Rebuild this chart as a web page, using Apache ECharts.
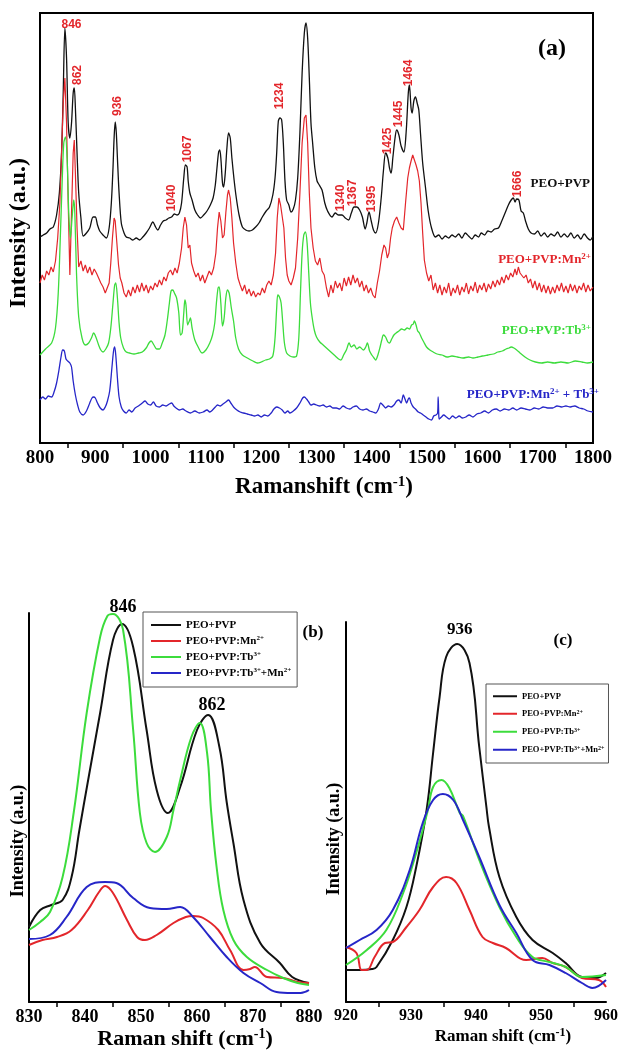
<!DOCTYPE html>
<html><head><meta charset="utf-8">
<script src="https://cdn.jsdelivr.net/npm/echarts@6/dist/echarts.min.js"></script>
<style>html,body{margin:0;padding:0;background:#fff}#c{width:621px;height:1052px}</style>
</head><body><div id="c"></div>
<script>
// ---------- Panel (a): full spectra, 800-1800 cm-1 (offset traces, arbitrary units) ----------
const aTicks = [800, 900, 1000, 1100, 1200, 1300, 1400, 1500, 1600, 1700, 1800];
const aBlack = [[800,206],[806,208],[812,210],[818,214],[824,216],[830,228],[835,250],[839,290],[842,350],[845,415],[848,385],[851,320],[854,305],[857,320],[860,350],[862,355],[864,335],[867,290],[870,250],[874,225],[878,207],[884,210],[890,215],[896,226],[900,226],[904,218],[908,212],[914,208],[920,205],[925,215],[929,240],[932,275],[934,305],[936,321],[938,310],[940,285],[943,250],[947,220],[952,210],[956,206],[962,205],[968,203],[974,205],[980,203],[986,206],[992,210],[998,215],[1004,221],[1009,216],[1013,213],[1018,218],[1023,222],[1028,223],[1033,225],[1038,226],[1043,229],[1048,228],[1052,230],[1056,240],[1060,265],[1063,278],[1066,276],[1068,262],[1071,250],[1075,243],[1080,233],[1085,228],[1090,225],[1096,228],[1102,232],[1108,238],[1113,245],[1117,258],[1120,275],[1123,291],[1125,293],[1127,285],[1130,260],[1132,256],[1135,270],[1138,295],[1141,310],[1144,305],[1147,285],[1151,263],[1155,245],[1160,228],[1166,216],[1172,213],[1178,212],[1184,213],[1190,216],[1196,220],[1202,226],[1209,232],[1215,236],[1221,248],[1225,265],[1228,290],[1231,322],[1234,325],[1237,323],[1240,300],[1243,262],[1246,243],[1250,238],[1254,231],[1258,234],[1262,243],[1266,265],[1270,310],[1274,370],[1278,410],[1281,420],[1284,405],[1287,365],[1290,320],[1293,300],[1297,275],[1301,262],[1305,258],[1310,253],[1315,240],[1320,232],[1328,226],[1334,230],[1340,228],[1346,228],[1352,225],[1358,223],[1363,230],[1368,236],[1373,236],[1378,233],[1383,226],[1388,214],[1391,220],[1395,231],[1399,222],[1403,213],[1407,210],[1412,220],[1417,245],[1421,272],[1425,290],[1429,285],[1432,275],[1435,270],[1438,285],[1442,305],[1445,313],[1449,308],[1453,297],[1458,291],[1462,310],[1466,350],[1468,358],[1471,335],[1473,330],[1476,342],[1479,346],[1482,340],[1485,333],[1488,310],[1492,280],[1497,256],[1502,232],[1508,215],[1515,206],[1521,208],[1527,204],[1533,207],[1539,205],[1545,208],[1551,206],[1557,209],[1563,205],[1569,210],[1575,207],[1581,204],[1587,208],[1593,206],[1598,210],[1604,208],[1610,212],[1616,211],[1622,214],[1629,215],[1635,222],[1641,230],[1647,238],[1652,243],[1656,245],[1659,241],[1662,244],[1666,243],[1670,232],[1674,230],[1678,222],[1683,214],[1688,210],[1694,209],[1700,212],[1706,207],[1712,210],[1718,206],[1724,209],[1730,207],[1736,211],[1742,206],[1748,209],[1754,206],[1760,210],[1766,205],[1772,208],[1778,204],[1784,209],[1790,205],[1795,203],[1800,207]];
const aRed = [[800,160],[804,168],[808,163],[812,172],[816,168],[820,176],[824,171],[828,182],[832,205],[836,240],[839,290],[842,340],[845,365],[848,320],[851,240],[854,168],[857,230],[860,290],[862,303],[864,270],[867,215],[870,176],[874,182],[878,172],[882,178],[886,170],[890,176],[894,168],[898,174],[902,170],[906,165],[910,160],[914,156],[918,150],[921,148],[925,160],[928,180],[931,205],[934,225],[936,222],[939,200],[942,178],[945,165],[948,160],[952,150],[956,146],[960,153],[964,147],[968,156],[972,150],[976,158],[980,151],[984,160],[988,152],[992,158],[996,150],[1000,157],[1004,153],[1008,160],[1012,156],[1016,163],[1020,158],[1024,166],[1028,162],[1032,170],[1036,173],[1040,168],[1044,175],[1048,170],[1052,180],[1056,195],[1059,215],[1062,226],[1065,218],[1068,195],[1071,198],[1074,180],[1078,172],[1082,166],[1086,170],[1090,162],[1094,168],[1098,160],[1102,166],[1106,172],[1110,168],[1114,175],[1118,190],[1121,215],[1124,231],[1127,222],[1130,205],[1133,208],[1136,230],[1139,248],[1141,253],[1144,245],[1147,225],[1150,200],[1154,180],[1158,165],[1162,158],[1166,152],[1170,158],[1174,149],[1178,154],[1182,147],[1186,152],[1190,146],[1194,150],[1198,148],[1202,155],[1206,150],[1210,158],[1214,162],[1218,158],[1222,168],[1226,190],[1229,225],[1232,245],[1235,238],[1238,240],[1241,215],[1244,185],[1247,168],[1250,162],[1254,158],[1258,165],[1262,175],[1266,205],[1270,250],[1274,300],[1278,325],[1281,328],[1284,300],[1287,250],[1290,215],[1294,195],[1298,182],[1302,178],[1306,185],[1310,172],[1314,168],[1318,155],[1322,146],[1326,158],[1330,150],[1334,162],[1338,155],[1342,160],[1346,152],[1350,165],[1354,157],[1358,166],[1362,158],[1366,168],[1370,160],[1374,165],[1378,156],[1382,162],[1386,152],[1390,158],[1394,150],[1398,155],[1402,148],[1406,145],[1410,160],[1414,172],[1418,188],[1422,198],[1425,195],[1428,185],[1431,190],[1434,205],[1437,215],[1441,222],[1445,226],[1449,220],[1453,215],[1457,213],[1461,240],[1465,265],[1468,275],[1471,282],[1474,288],[1477,283],[1480,278],[1483,272],[1486,262],[1489,240],[1492,210],[1495,183],[1499,170],[1503,162],[1507,168],[1511,153],[1515,160],[1519,150],[1523,158],[1527,148],[1531,156],[1535,150],[1539,160],[1543,147],[1547,155],[1551,150],[1555,158],[1559,148],[1563,156],[1567,151],[1571,160],[1575,149],[1579,157],[1583,152],[1587,161],[1591,150],[1595,158],[1599,153],[1603,160],[1607,151],[1611,159],[1615,154],[1619,162],[1623,156],[1627,163],[1631,158],[1635,166],[1639,160],[1643,168],[1647,163],[1651,170],[1655,166],[1659,174],[1662,168],[1665,176],[1668,170],[1671,172],[1675,165],[1679,168],[1683,160],[1687,164],[1691,155],[1695,162],[1699,153],[1703,160],[1707,151],[1711,158],[1715,150],[1719,157],[1723,149],[1727,156],[1731,150],[1735,158],[1739,152],[1743,160],[1747,151],[1751,157],[1755,150],[1759,159],[1763,152],[1767,158],[1771,150],[1775,157],[1779,153],[1783,160],[1787,151],[1791,158],[1795,152],[1800,156]];
const aGreen = [[800,88],[810,94],[821,100],[828,115],[833,150],[837,210],[840,260],[843,300],[846,306],[849,285],[852,230],[855,205],[858,225],[861,243],[863,230],[866,170],[870,126],[876,105],[882,98],[888,100],[893,105],[897,110],[901,106],[906,98],[910,93],[914,91],[919,94],[924,100],[928,115],[932,140],[935,158],[937,160],[940,145],[943,120],[946,105],[951,95],[956,91],[962,90],[970,89],[978,90],[985,91],[992,95],[997,100],[1001,102],[1006,98],[1011,94],[1016,94],[1021,100],[1026,108],[1030,122],[1034,140],[1037,152],[1040,153],[1043,150],[1047,145],[1051,130],[1054,108],[1057,110],[1060,130],[1062,143],[1064,138],[1067,118],[1070,122],[1072,125],[1075,115],[1080,103],[1086,96],[1093,90],[1100,93],[1107,100],[1112,108],[1116,120],[1119,140],[1122,155],[1124,156],[1127,140],[1130,117],[1133,125],[1136,145],[1139,153],[1142,150],[1146,135],[1150,122],[1154,105],[1159,94],[1166,88],[1175,85],[1185,82],[1193,80],[1200,81],[1208,83],[1215,84],[1221,87],[1225,105],[1228,135],[1230,148],[1233,146],[1236,140],[1239,120],[1242,100],[1246,90],[1252,87],[1258,86],[1264,87],[1268,105],[1271,150],[1274,190],[1277,208],[1280,211],[1283,200],[1286,170],[1289,140],[1292,126],[1296,113],[1300,106],[1306,101],[1312,98],[1318,95],[1322,93],[1328,90],[1334,87],[1340,84],[1344,83],[1349,88],[1354,93],[1359,100],[1363,96],[1368,98],[1373,94],[1378,96],[1385,93],[1389,96],[1392,100],[1396,92],[1400,88],[1404,85],[1407,83],[1411,88],[1415,96],[1418,103],[1421,108],[1425,106],[1429,101],[1432,100],[1436,104],[1440,108],[1444,110],[1449,112],[1454,114],[1459,113],[1464,115],[1468,114],[1472,118],[1475,119],[1477,122],[1480,118],[1483,112],[1486,110],[1490,105],[1494,101],[1499,96],[1505,93],[1511,91],[1518,89],[1527,88],[1536,86],[1545,87],[1555,86],[1565,85],[1575,86],[1583,85],[1592,86],[1600,87],[1610,88],[1620,89],[1628,91],[1636,92],[1643,94],[1648,95],[1652,96],[1657,95],[1662,93],[1668,90],[1677,86],[1686,83],[1696,81],[1707,80],[1718,81],[1730,80],[1742,81],[1755,80],[1768,82],[1780,81],[1790,80],[1800,81]];
const aBlue = [[800,43],[805,46],[810,44],[815,47],[821,46],[826,52],[830,60],[834,72],[838,86],[841,93],[844,92],[847,84],[850,82],[854,80],[857,76],[860,62],[864,48],[868,38],[872,31],[878,28],[884,32],[890,40],[894,45],[897,46],[900,45],[904,40],[909,35],[914,33],[918,36],[922,42],[926,52],[930,75],[933,92],[935,96],[937,88],[940,65],[943,46],[947,36],[951,32],[956,30],[961,33],[966,31],[972,35],[978,37],[985,40],[990,42],[995,39],[1000,38],[1005,41],[1010,37],[1016,36],[1022,38],[1028,37],[1034,39],[1038,40],[1042,37],[1046,35],[1052,33],[1058,34],[1064,32],[1072,30],[1080,32],[1088,30],[1095,31],[1102,33],[1107,31],[1112,33],[1117,36],[1121,38],[1126,37],[1131,39],[1136,41],[1141,43],[1145,40],[1150,36],[1156,33],[1162,31],[1168,30],[1175,29],[1182,28],[1188,27],[1194,28],[1200,26],[1206,28],[1212,27],[1218,30],[1223,34],[1228,36],[1233,35],[1238,33],[1243,30],[1248,32],[1252,30],[1258,32],[1264,35],[1270,40],[1275,45],[1278,46],[1282,44],[1286,41],[1290,38],[1295,39],[1300,38],[1306,37],[1312,38],[1318,36],[1324,37],[1330,35],[1336,35],[1342,34],[1348,37],[1354,35],[1360,34],[1366,36],[1372,37],[1378,34],[1384,33],[1390,34],[1396,32],[1402,31],[1407,30],[1412,34],[1416,40],[1420,38],[1425,35],[1430,37],[1435,36],[1440,38],[1445,42],[1449,43],[1453,40],[1457,48],[1460,44],[1463,40],[1466,44],[1468,45],[1471,40],[1475,36],[1479,34],[1484,31],[1488,30],[1493,28],[1498,26],[1503,24],[1508,23],[1512,27],[1516,28],[1519,30],[1520,46],[1521,30],[1522,24],[1526,26],[1530,28],[1535,26],[1540,24],[1546,27],[1552,25],[1558,27],[1564,25],[1570,26],[1576,28],[1583,26],[1590,29],[1597,30],[1604,32],[1611,30],[1618,33],[1625,34],[1632,32],[1640,34],[1648,33],[1655,35],[1662,33],[1670,35],[1678,34],[1686,33],[1694,35],[1702,34],[1710,36],[1718,35],[1727,35],[1735,37],[1743,36],[1751,37],[1759,36],[1767,37],[1775,35],[1783,34],[1791,32],[1800,31]];
// peak annotations: [wavenumber, height, text]
const aPeakTop  = [[857,418,'846']];
const aPeakSide = [[869,368,'862'],[941,337,'936'],[1038,245,'1040'],[1067,294,'1067'],[1233,347,'1234'],[1343,245,'1340'],[1366,250,'1367'],[1400,244,'1395'],[1428,302,'1425'],[1448,329,'1445'],[1466,370,'1464'],[1663,259,'1666']];

// ---------- Panel (b): 830-880 cm-1 ----------
const bTicks = [830, 840, 850, 860, 870, 880];
const bBlack = [[830,75],[832,92],[834,97],[836,102],[837.6,125],[839,172],[840.5,220],[842.7,289],[845,362],[846.6,378],[848.6,355],[851,272],[852.8,212],[854.8,189],[857,215],[860,272],[862,287],[864,255],[865.3,200],[866.5,159],[868.3,102],[871.3,59],[874.8,39],[877,25],[880,19]];
const bRed = [[830,57],[832.4,62],[835,65],[837.6,72],[840.5,92],[842.5,110],[843.6,116],[845,109],[847.5,82],[849.3,65],[850.7,62],[852.8,67],[855.8,79],[858,85],[859.3,86],[861.1,84],[863.8,72],[865.9,52],[868.3,32],[869.5,33],[870.3,35],[872.5,25],[875.4,24],[878,20],[880,19]];
const bGreen = [[830,72],[832,80],[833.75,90],[836,125],[838,190],[840.3,289],[842.7,365],[844,386],[845,388],[846.8,372],[848.6,272],[849.8,189],[851,159],[852.5,150],[854.6,165],[855.8,192],[857,222],[859,265],[860.5,279],[861.8,249],[862.5,192],[863.5,135],[864.7,92],[866.5,62],[868.9,45],[872.5,32],[875.4,24],[878,19],[880,17]];
const bBlue = [[830,63],[833.75,67],[836.7,85],[840.3,115],[843.6,120],[845.6,119],[848.6,104],[851.6,94],[854.6,93],[857,95],[859.3,85],[862.3,65],[865.3,45],[868.3,29],[871.3,19],[874.2,10],[877,9],[878.5,9],[880,12]];
const bPeaks = [[846.8,395,'846'],[862.7,297,'862']];

// ---------- Panel (c): 920-960 cm-1 ----------
const cTicks = [920, 930, 940, 950, 960];
const cBlack = [[920,32],[922,32],[924,33],[924.7,35],[927.2,62],[929.3,95],[930.8,135],[932.4,192],[933.4,249],[934.4,305],[935.4,345],[937.1,358],[939,339],[940.5,255],[941.6,195],[942,175],[943.6,125],[946.2,85],[948.7,62],[951.8,49],[953.8,39],[956.3,25],[958.4,24],[960,29]];
const cRed = [[920,55],[921.6,49],[922.4,32],[923.2,32],[924.4,45],[926,59],[927.2,60],[929.3,75],[931.3,92],[933.4,115],[935.4,125],[937,119],[939,92],[941,65],[942.6,59],[944.6,54],[947.7,42],[950.2,44],[951.8,39],[953.8,35],[956.3,24],[958.9,22],[960,15]];
const cGreen = [[920,37],[923.2,52],[926.2,72],[928.8,109],[930.8,149],[932.6,192],[933.4,215],[934.7,222],[935.9,214],[937.5,189],[938,186],[940.5,142],[943.6,95],[946.2,65],[948.7,45],[951.3,40],[953.8,35],[956.3,25],[960,27]];
const cBlue = [[920,54],[922.1,62],[924.7,72],[927.2,92],[929.8,132],[931.8,179],[933.4,202],[934.9,208],[936.5,202],[938,182],[940.5,145],[943.6,97],[946.2,69],[948.7,42],[951.3,37],[953.8,29],[956.3,19],[957.9,14],[960,22]];
const cPeaks = [[937.5,372,'936']];

const names = ['PEO+PVP', 'PEO+PVP:Mn2+', 'PEO+PVP:Tb3+', 'PEO+PVP:Tb3++Mn2+'];
const aNames = ['PEO+PVP', 'PEO+PVP:Mn2+', 'PEO+PVP:Tb3+', 'PEO+PVP:Mn2+ + Tb3+'];

// ---------- styling ----------
const SERIF = 'Liberation Serif', SANS = 'Liberation Sans';
const COL = ['#111111', '#e3262b', '#3cdc3c', '#2626c8'];
const PEAKRED = '#e3262b';

function line(name, data, xi, color, width, smooth) {
  return { type: 'line', name, data, xAxisIndex: xi, yAxisIndex: xi, showSymbol: false, symbol: 'none',
    smooth, lineStyle: { color, width }, itemStyle: { color }, z: 3, silent: true };
}
function peakSeries(data, xi, rotate, font) {
  return { type: 'scatter', xAxisIndex: xi, yAxisIndex: xi, symbolSize: 1, silent: true, z: 5, clip: false,
    itemStyle: { color: 'rgba(0,0,0,0)' },
    data: data.map(d => ({ value: [d[0], d[1]], name: d[2] })),
    label: { show: true, position: 'inside', rotate, formatter: p => p.name, opacity: 1, textBorderWidth: 0, ...font } };
}
function xAxis(gi, min, max, ticks, fontSize) {
  return { type: 'value', gridIndex: gi, min, max, interval: ticks[1] - ticks[0],
    axisLine: { show: true, onZero: false, lineStyle: { color: '#000', width: 2 } },
    axisTick: { show: false },
    minorTick: { show: true, splitNumber: 2, length: 5, lineStyle: { color: '#000', width: 1.5 } },
    splitLine: { show: false }, minorSplitLine: { show: false },
    axisLabel: { color: '#000', fontFamily: SERIF, fontWeight: 'bold', fontSize, margin: 6,
      formatter: v => ticks.includes(v) ? String(v) : '' } };
}
function yAxis(gi, max) {
  return { type: 'value', gridIndex: gi, min: 0, max,
    axisLine: { show: true, onZero: false, lineStyle: { color: '#000', width: 2 } },
    axisTick: { show: false }, axisLabel: { show: false }, splitLine: { show: false } };
}
const supRich = (m, s, raise) => ({
  m: { fontFamily: SERIF, fontWeight: 'bold', fontSize: m, lineHeight: m + 1, verticalAlign: 'bottom' },
  s: { fontFamily: SERIF, fontWeight: 'bold', fontSize: s, lineHeight: s + 1, verticalAlign: 'top', padding: [0, 0, raise, 0] }
});
const richName = n => n.split(/(\d\+)/).filter(t => t).map(t => /^\d\+$/.test(t) ? '{s|' + t + '}' : '{m|' + t + '}').join('');

function text(x, y, str, color, rich, rotation) {
  return { type: 'text', x, y, rotation: rotation || 0, silent: true, z: 10,
    style: { text: str, fill: color, rich, align: 'center', verticalAlign: 'middle' } };
}

function legend(left, top, fs, sfs, raise, itemW, gap, pad) {
  return { left, top, orient: 'vertical', data: names, icon: 'rect', itemWidth: itemW, itemHeight: 2,
    itemGap: gap, padding: pad, borderColor: '#555', borderWidth: 1, selectedMode: false,
    formatter: n => richName(n),
    textStyle: { color: '#000', fontFamily: SERIF, fontWeight: 'bold', fontSize: fs, rich: supRich(fs, sfs, raise) } };
}

const option = {
  animation: false,
  backgroundColor: '#fff',
  grid: [
    { left: 40, top: 13, width: 553, height: 430, show: true, borderColor: '#000', borderWidth: 2, backgroundColor: 'transparent' },
    { left: 29, top: 613, width: 280, height: 389 },
    { left: 346, top: 622, width: 261, height: 380 }
  ],
  xAxis: [ xAxis(0, 800, 1800, aTicks, 19), xAxis(1, 830, 880, bTicks, 18), xAxis(2, 920, 960, cTicks, 16) ],
  yAxis: [ yAxis(0, 430), yAxis(1, 389), yAxis(2, 380) ],
  legend: [
    legend(143, 612, 11, 7, 5, 30, 4, [8, 6, 8, 8]),
    legend(486, 684, 8.5, 6, 4, 24, 8, [8, 4, 8, 7])
  ],
  series: [
    line(names[0], bBlack, 1, COL[0], 2, 0.4),
    line(names[1], bRed, 1, COL[1], 2, 0.4),
    line(names[2], bGreen, 1, COL[2], 2, 0.4),
    line(names[3], bBlue, 1, COL[3], 2, 0.4),
    line(names[0], cBlack, 2, COL[0], 2, 0.4),
    line(names[1], cRed, 2, COL[1], 2, 0.4),
    line(names[2], cGreen, 2, COL[2], 2, 0.4),
    line(names[3], cBlue, 2, COL[3], 2, 0.4),
    line(aNames[0], aBlack, 0, COL[0], 1.3, 0.3),
    line(aNames[1], aRed, 0, COL[1], 1.2, false),
    line(aNames[2], aGreen, 0, COL[2], 1.3, 0.3),
    line(aNames[3], aBlue, 0, COL[3], 1.3, 0.3),
    peakSeries(aPeakTop, 0, 0, { color: PEAKRED, fontFamily: SANS, fontWeight: 'bold', fontSize: 12 }),
    peakSeries(aPeakSide, 0, 90, { color: PEAKRED, fontFamily: SANS, fontWeight: 'bold', fontSize: 12 }),
    peakSeries(bPeaks, 1, 0, { color: '#000', fontFamily: SERIF, fontWeight: 'bold', fontSize: 18 }),
    peakSeries(cPeaks, 2, 0, { color: '#000', fontFamily: SERIF, fontWeight: 'bold', fontSize: 17 })
  ],
  graphic: [
    // panel tags
    text(552, 48, '{m|(a)}', '#000', supRich(24, 12, 0)),
    text(313, 632, '{m|(b)}', '#000', supRich(17, 10, 0)),
    text(563, 640, '{m|(c)}', '#000', supRich(17, 10, 0)),
    // axis titles
    text(324, 487, '{m|Ramanshift (cm}{s|-1}{m|)}', '#000', supRich(23, 15, 9)),
    text(185, 1039, '{m|Raman shift (cm}{s|-1}{m|)}', '#000', supRich(22, 14, 9)),
    text(503, 1036, '{m|Raman shift (cm}{s|-1}{m|)}', '#000', supRich(17, 12, 7)),
    text(18, 233, '{m|Intensity (a.u.)}', '#000', supRich(24, 12, 0), Math.PI / 2),
    text(18, 841, '{m|Intensity (a.u.)}', '#000', supRich(18, 12, 0), Math.PI / 2),
    text(334, 839, '{m|Intensity (a.u.)}', '#000', supRich(18, 12, 0), Math.PI / 2),
    // panel (a) trace labels
    { type: 'text', x: 590, y: 183, silent: true, z: 10, style: { text: richName(aNames[0]), fill: COL[0], rich: supRich(13, 9, 7), align: 'right', verticalAlign: 'middle' } },
    { type: 'text', x: 591, y: 259, silent: true, z: 10, style: { text: richName(aNames[1]), fill: COL[1], rich: supRich(13, 9, 7), align: 'right', verticalAlign: 'middle' } },
    { type: 'text', x: 591, y: 330, silent: true, z: 10, style: { text: richName(aNames[2]), fill: COL[2], rich: supRich(13, 9, 7), align: 'right', verticalAlign: 'middle' } },
    { type: 'text', x: 599, y: 394, silent: true, z: 10, style: { text: richName(aNames[3]), fill: COL[3], rich: supRich(13, 9, 7), align: 'right', verticalAlign: 'middle' } }
  ]
};
const chart = echarts.init(document.getElementById('c'));
chart.setOption(option);
</script></body></html>
